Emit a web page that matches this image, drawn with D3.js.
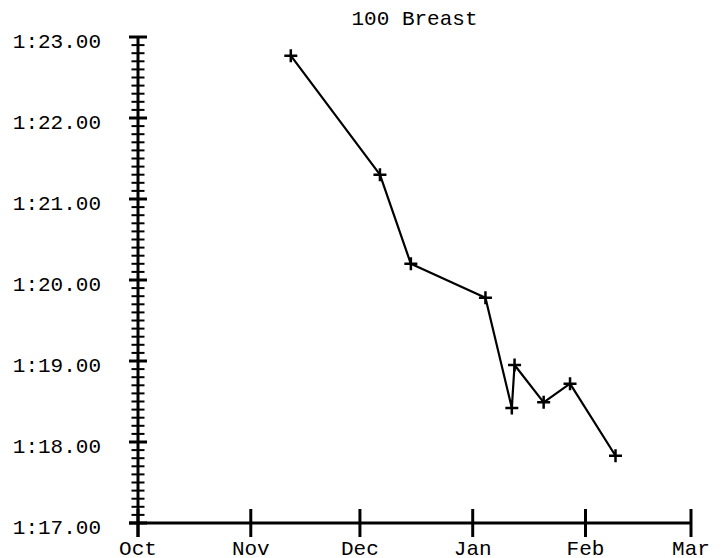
<!DOCTYPE html>
<html>
<head>
<meta charset="utf-8">
<script src="https://cdn.jsdelivr.net/npm/d3@7"></script>
<style>
  html, body { margin: 0; padding: 0; background: #fff; }
  svg { display: block; }
  text { font-family: "Courier New", "Liberation Mono", monospace; fill: #000; }
</style>
</head>
<body>
<svg id="chart" width="727" height="558"></svg>
<script>
const title = "100 Breast";
const swimDates = ["2003-11-12T00:00", "2003-12-06T12:00", "2003-12-15T00:00", "2004-01-04T12:00",
                   "2004-01-11T18:00", "2004-01-12T12:00", "2004-01-20T12:00", "2004-01-27T18:00", "2004-02-09T06:00"];
const swimTimes = [82.77, 81.30, 80.20, 79.78, 78.42, 78.95, 78.49, 78.72, 77.83];
const monthTicks = ["2003-10-01", "2003-11-01", "2003-12-01", "2004-01-01", "2004-02-01", "2004-03-01"];
const monthLabels = ["Oct", "Nov", "Dec", "Jan", "Feb", "Mar"];
const yMajorTicks = [77, 78, 79, 80, 81, 82, 83];
const yLabels = ["1:17.00", "1:18.00", "1:19.00", "1:20.00", "1:21.00", "1:22.00", "1:23.00"];
const yMinorStep = 0.1;

const parse = s => new Date(s + (s.length === 10 ? "T00:00:00Z" : ":00Z"));

const svg = d3.select("#chart");
const mLeft = 138, mRight = 691, mTop = 37, mBottom = 523;

const x = d3.scaleUtc().domain([parse(monthTicks[0]), parse(monthTicks[monthTicks.length - 1])]).range([mLeft, mRight]);
const y = d3.scaleLinear().domain([77, 83]).range([mBottom, mTop]);

// title
svg.append("text")
  .attr("x", (mLeft + mRight) / 2).attr("y", 25)
  .attr("text-anchor", "middle").attr("font-size", 21)
  .text(title);

// minor y ticks
const minor = d3.range(77, 83.0001, yMinorStep).filter(v => Math.abs(v - Math.round(v)) > 1e-6);
svg.append("g").selectAll("line").data(minor).join("line")
  .attr("x1", mLeft - 6.5).attr("x2", mLeft + 6.5)
  .attr("y1", d => y(d)).attr("y2", d => y(d))
  .attr("stroke", "#000").attr("stroke-width", 2);

// major y ticks
svg.append("g").selectAll("line").data(yMajorTicks).join("line")
  .attr("x1", mLeft - 9).attr("x2", mLeft + 9)
  .attr("y1", d => y(d)).attr("y2", d => y(d))
  .attr("stroke", "#000").attr("stroke-width", 3);

svg.append("g").selectAll("text").data(yMajorTicks).join("text")
  .attr("x", 101).attr("y", d => y(d) + 11)
  .attr("text-anchor", "end").attr("font-size", 21)
  .text((d, i) => yLabels[i]);

// y axis line
svg.append("line")
  .attr("x1", mLeft).attr("x2", mLeft).attr("y1", y(83)).attr("y2", y(77) + 14)
  .attr("stroke", "#000").attr("stroke-width", 3);

// x axis line
svg.append("line")
  .attr("x1", mLeft - 9).attr("x2", mRight).attr("y1", mBottom).attr("y2", mBottom)
  .attr("stroke", "#000").attr("stroke-width", 3);

// x ticks
svg.append("g").selectAll("line").data(monthTicks).join("line")
  .attr("x1", d => x(parse(d))).attr("x2", d => x(parse(d)))
  .attr("y1", mBottom - 14).attr("y2", mBottom + 14)
  .attr("stroke", "#000").attr("stroke-width", 3);

svg.append("g").selectAll("text").data(monthTicks).join("text")
  .attr("x", d => x(parse(d))).attr("y", 555)
  .attr("text-anchor", "middle").attr("font-size", 21)
  .text((d, i) => monthLabels[i]);

// data
const pts = swimDates.map((d, i) => ({ date: parse(d), v: swimTimes[i] }));
svg.append("path")
  .datum(pts)
  .attr("fill", "none").attr("stroke", "#000").attr("stroke-width", 2.2)
  .attr("stroke-linejoin", "round")
  .attr("d", d3.line().x(d => x(d.date)).y(d => y(d.v)));

svg.append("g").selectAll("path").data(pts).join("path")
  .attr("d", d => {
    const cx = x(d.date), cy = y(d.v), r = 6.5;
    return `M${cx - r},${cy}H${cx + r}M${cx},${cy - r}V${cy + r}`;
  })
  .attr("stroke", "#000").attr("stroke-width", 2.5).attr("fill", "none");
</script>
</body>
</html>
